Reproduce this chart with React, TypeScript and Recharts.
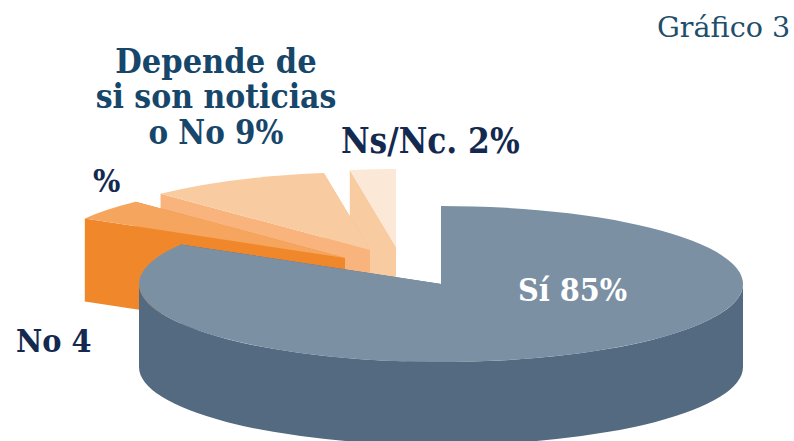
import { PieChart, Pie } from 'recharts';

const categories = ['Ns/Nc.', 'Depende de si son noticias o No', 'No', 'Sí'];
const shares = [2, 9, 4, 85];
const topColors = ['#FCE8D6', '#F9CBA0', '#F5A55E', '#7C90A4'];
const sideColors = ['#F9CBA0', '#F8B47C', '#F0882B', '#536A80'];
const offsetsX = [-45, -71, -96, 0];
const offsetsY = [-37, -34, -26, 0];

const data = categories.map((name, i) => ({ name, value: shares[i], index: i }));

const RX = 302;
const RY = 78;
const DEPTH = 83;

// the original's 3D view foreshortens the far side of the pie a little
const warp = (deg: number) => {
  const t = deg - 90;
  if (t <= 7.2) return 90 + (t * 8.8) / 7.2;
  if (t <= 54) return 90 + 8.8 + ((t - 7.2) * 50.7) / 46.8;
  return 90 + 59.5 + ((t - 54) * 300.5) / 306;
};

const Slice = (props: any) => {
  const { cx, cy, startAngle, endAngle, payload } = props;
  const i = payload.index;
  const ox = cx + offsetsX[i];
  const oy = cy + offsetsY[i];
  const pt = (deg: number) => {
    const a = (deg * Math.PI) / 180;
    return [ox + RX * Math.cos(a), oy - RY * Math.sin(a)];
  };
  const from = warp(startAngle);
  const to = warp(endAngle);
  const [ax, ay] = pt(from);
  const [bx, by] = pt(to);
  const large = to - from > 180 ? 1 : 0;
  const top = `M${ox},${oy} L${ax},${ay} A${RX},${RY} 0 ${large} 0 ${bx},${by} Z`;
  const edgeA = `M${ox},${oy} L${ax},${ay} L${ax},${ay + DEPTH} L${ox},${oy + DEPTH} Z`;
  const edgeB = `M${ox},${oy} L${bx},${by} L${bx},${by + DEPTH} L${ox},${oy + DEPTH} Z`;
  // only the front half of the rim (180 to 360 degrees) can be seen
  const rimFrom = Math.max(from, 180);
  const rimTo = Math.min(to, 360);
  let rim = '';
  if (rimTo > rimFrom) {
    const [cx1, cy1] = pt(rimFrom);
    const [cx2, cy2] = pt(rimTo);
    rim = `M${cx1},${cy1} A${RX},${RY} 0 0 0 ${cx2},${cy2} L${cx2},${cy2 + DEPTH} A${RX},${RY} 0 0 1 ${cx1},${cy1 + DEPTH} Z`;
  }
  return (
    <g>
      <path d={edgeA} fill={sideColors[i]} />
      <path d={edgeB} fill={sideColors[i]} />
      {rim && <path d={rim} fill={sideColors[i]} />}
      <path d={top} fill={topColors[i]} />
    </g>
  );
};

const serif = '"DejaVu Serif Condensed", "DejaVu Serif", serif';

const App = () => {
  return (
    <div style={{ position: 'absolute', left: 0, top: 0, width: 794, height: 441, overflow: 'hidden', background: '#fff' }}>
      <PieChart width={794} height={441} margin={{ top: 0, right: 0, bottom: 0, left: 0 }}>
        <Pie
          data={data}
          dataKey="value"
          nameKey="name"
          cx={441}
          cy={284}
          outerRadius={RY}
          startAngle={90}
          endAngle={450}
          stroke="none"
          paddingAngle={0}
          isAnimationActive={false}
          shape={Slice}
        />
      </PieChart>
      <svg width={794} height={441} style={{ position: 'absolute', left: 0, top: 0 }}>
        <g fontFamily={serif} fontWeight="bold" fontSize={33}>
          <text textAnchor="middle" fill="#17466B">
            <tspan x={216} y={73} fontSize={34}>Depende de</tspan>
            <tspan x={216} y={108} fontSize={33.3}>si son noticias</tspan>
            <tspan x={216} y={144} fontSize={32.7}>o No 9%</tspan>
          </text>
          <text x={341} y={153} fontSize={34.8} fill="#13294F">Ns/Nc. 2%</text>
          <text x={93} y={192} fontSize={32} fill="#13294F">%</text>
          <text x={16} y={352} fontSize={32} fill="#13294F">No 4</text>
          <text x={518} y={301} fontSize={32} fill="#FFFFFF">Sí 85%</text>
        </g>
        <text x={657} y={37} fontFamily='"DejaVu Serif", serif' fontSize={28.6} fill="#1F4E6B">Gráfico 3</text>
      </svg>
    </div>
  );
};

export default App;
